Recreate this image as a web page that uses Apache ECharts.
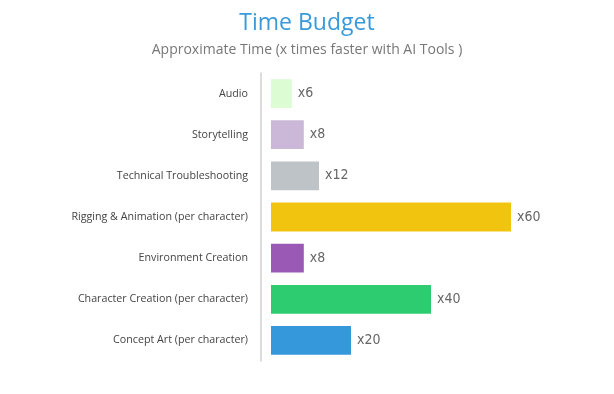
<!DOCTYPE html>
<html><head><meta charset="utf-8">
<script src="https://cdn.jsdelivr.net/npm/echarts@6/dist/echarts.min.js"></script>
<style>html,body{margin:0;padding:0;background:#fff}#c{width:614px;height:394px}</style>
</head><body><div id="c"></div>
<script>
const categories = ["Concept Art (per character)", "Character Creation (per character)", "Environment Creation", "Rigging & Animation (per character)", "Technical Troubleshooting", "Storytelling", "Audio"];
const values = [20, 40, 8.2, 60, 12, 8.2, 5.2];
const valueLabels = ["x20", "x40", "x8", "x60", "x12", "x8", "x6"];
const colors = ["#3498db", "#2ecc71", "#9b59b6", "#f1c40f", "#bdc3c7", "#cbb8d9", "#dcfcd4"];

const chart = echarts.init(document.getElementById('c'), null, {renderer: 'canvas'});
chart.setOption({
  animation: false,
  title: {
    text: 'Time Budget',
    subtext: 'Approximate Time (x times faster with AI Tools )',
    left: 'center', top: 7, itemGap: 8,
    textStyle: {color: '#3a9ad9', fontFamily: 'Open Sans', fontSize: 23, fontWeight: 'normal'},
    subtextStyle: {color: '#777', fontFamily: 'Open Sans', fontSize: 14}
  },
  grid: {left: 261, right: 23, top: 73, bottom: 33, containLabel: false},
  xAxis: {
    type: 'value', min: -2.5, max: 80, show: false, splitLine: {show: false}
  },
  yAxis: {
    type: 'category', data: categories,
    axisLine: {onZero: false, lineStyle: {color: '#d0d0d0', width: 1.5}},
    axisTick: {show: false},
    axisLabel: {color: '#444', fontFamily: 'Open Sans', fontSize: 10.7, margin: 13}
  },
  series: [{
    type: 'bar',
    barWidth: '70%',
    data: values.map((v, i) => ({value: v, itemStyle: {color: colors[i]}})),
    label: {
      show: true, position: 'right', distance: 6,
      formatter: p => valueLabels[p.dataIndex],
      color: '#666', fontStyle: 'normal', fontWeight: 'condensed', fontFamily: 'DejaVu Sans', fontSize: 14
    }
  }]
});
</script></body></html>
